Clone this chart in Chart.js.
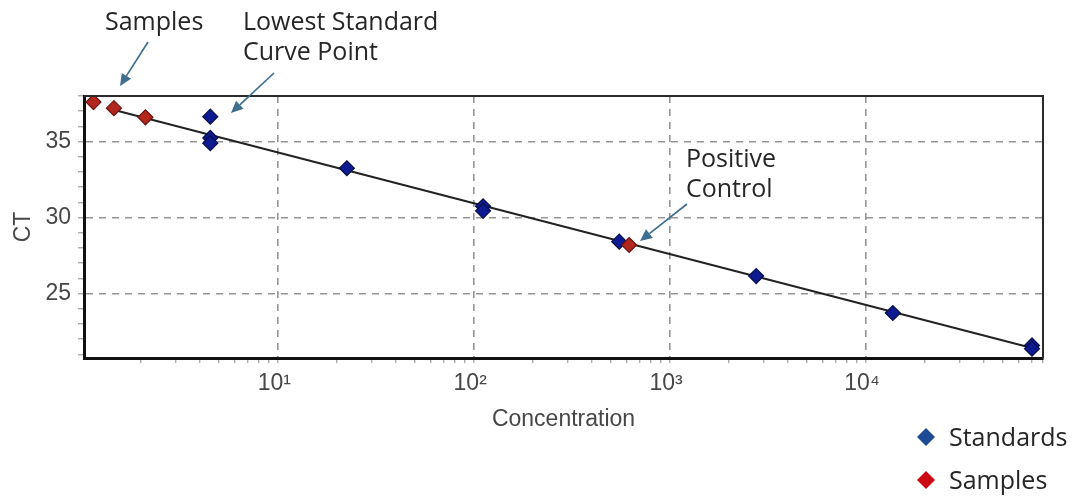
<!DOCTYPE html>
<html>
<head>
<meta charset="utf-8">
<style>
  html, body { margin: 0; padding: 0; background: #ffffff; }
  #wrap { width: 1078px; height: 498px; position: relative; }
</style>
<script src="https://cdn.jsdelivr.net/npm/chart.js@4.4.1/dist/chart.umd.min.js"></script>
</head>
<body>
<div id="wrap"><canvas id="c" width="1078" height="498"></canvas></div>
<script>
// ---- data ----
const standardConc = [4.5, 4.5, 4.5, 22.4, 111, 111, 550, 2750, 13700, 70300, 70300];
const standardCt   = [36.64, 35.24, 34.9, 33.25, 30.75, 30.45, 28.42, 26.16, 23.73, 21.6, 21.38];
const sampleConc   = [1.14, 1.45, 2.1, 618];
const sampleCt     = [37.6, 37.2, 36.6, 28.2];
const fitConc      = [1.44, 70300];
const fitCt        = [37.1, 21.43];
const xMajorTicks  = [10, 100, 1000, 10000];
const xTickLabels  = ['10\u00B9', '10\u00B2', '10\u00B3', '10\u2074'];
const yMajorTicks  = [25, 30, 35];
const yTickLabels  = ['25', '30', '35'];
const xRange = [1.02, 80000];
const yRange = [20.77, 38.0];
const legendLabels = ['Standards', 'Samples'];

const toXY = (xs, ys) => xs.map((x, i) => ({ x: x, y: ys[i] }));

const axisFont = { family: "'Liberation Sans', Arial, sans-serif", size: 23 };
const axisColor = '#474747';
const gridColor = '#959595';

function xMinorTicks() {
  const t = [];
  for (let d = 1; d <= 10000; d *= 10) {
    for (let m = 1; m <= 9; m++) {
      const v = m * d;
      if (v >= xRange[0] && v <= xRange[1]) t.push({ value: v });
    }
  }
  return t;
}

const framePlugin = {
  id: 'frame',
  afterDatasetsDraw(chart) {
    const { ctx, chartArea: a } = chart;
    ctx.save();
    ctx.strokeStyle = '#2b2b2b';
    ctx.lineWidth = 2;
    ctx.beginPath();
    ctx.moveTo(a.left, a.top);
    ctx.lineTo(a.right, a.top);
    ctx.lineTo(a.right, a.bottom);
    ctx.stroke();
    ctx.restore();
  }
};

const notesPlugin = {
  id: 'notes',
  afterDraw(chart) {
    const ctx = chart.ctx;
    const notes = [
      { lines: ['Samples'], x: 105, y: 30 },
      { lines: ['Lowest Standard', 'Curve Point'], x: 243, y: 30 },
      { lines: ['Positive', 'Control'], x: 686, y: 167 }
    ];
    const arrows = [[148, 42, 120, 86], [274, 73, 231, 113], [687, 204, 640, 241]];
    ctx.save();
    ctx.font = "25px 'Open Sans', 'Noto Sans', sans-serif";
    ctx.fillStyle = '#262626';
    ctx.textBaseline = 'alphabetic';
    ctx.textAlign = 'left';
    notes.forEach(n => n.lines.forEach((l, i) => ctx.fillText(l, n.x, n.y + i * 30)));
    ctx.strokeStyle = '#3f6f8f';
    ctx.fillStyle = '#3f6f8f';
    ctx.lineWidth = 1.7;
    arrows.forEach(([x1, y1, x2, y2]) => {
      const ang = Math.atan2(y2 - y1, x2 - x1);
      const hl = 12, hw = 5.5;
      const bx = x2 - hl * Math.cos(ang), by = y2 - hl * Math.sin(ang);
      ctx.beginPath();
      ctx.moveTo(x1, y1);
      ctx.lineTo(bx, by);
      ctx.stroke();
      ctx.beginPath();
      ctx.moveTo(x2, y2);
      ctx.lineTo(bx + hw * Math.sin(ang), by - hw * Math.cos(ang));
      ctx.lineTo(bx - hw * Math.sin(ang), by + hw * Math.cos(ang));
      ctx.closePath();
      ctx.fill();
    });
    // legend
    const items = [
      { text: legendLabels[0], color: '#1f4a96', cy: 437 },
      { text: legendLabels[1], color: '#cc0a14', cy: 480 }
    ];
    items.forEach(it => {
      ctx.fillStyle = it.color;
      ctx.beginPath();
      ctx.moveTo(926, it.cy - 9);
      ctx.lineTo(935, it.cy);
      ctx.lineTo(926, it.cy + 9);
      ctx.lineTo(917, it.cy);
      ctx.closePath();
      ctx.fill();
      ctx.fillStyle = '#262626';
      ctx.fillText(it.text, 949, it.cy + 9);
    });
    ctx.restore();
  }
};

new Chart(document.getElementById('c'), {
  type: 'scatter',
  data: {
    datasets: [
      {
        label: legendLabels[1],
        data: toXY(sampleConc, sampleCt),
        pointStyle: 'rectRot',
        pointRadius: 7.5,
        backgroundColor: '#b3261e',
        borderColor: '#6a1410',
        borderWidth: 1.2,
        order: 1
      },
      {
        label: legendLabels[0],
        data: toXY(standardConc, standardCt),
        pointStyle: 'rectRot',
        pointRadius: 7.5,
        backgroundColor: '#0e1a8f',
        borderColor: '#08104a',
        borderWidth: 1.2,
        order: 2
      },
      {
        label: 'fit',
        data: toXY(fitConc, fitCt),
        showLine: true,
        pointRadius: 0,
        borderColor: '#222222',
        borderWidth: 2,
        order: 3
      }
    ]
  },
  options: {
    responsive: false,
    animation: false,
    layout: { padding: { top: 96, right: 35, bottom: 65, left: 0 } },
    plugins: { legend: { display: false }, tooltip: { enabled: false } },
    scales: {
      x: {
        type: 'logarithmic',
        min: xRange[0],
        max: xRange[1],
        afterBuildTicks: s => { s.ticks = xMinorTicks(); },
        afterFit: s => { s.height = 75; },
        grid: {
          color: c => (c.tick && xMajorTicks.includes(c.tick.value)) ? gridColor : 'rgba(0,0,0,0)',
          lineWidth: 1.6,
          tickColor: '#8a8a8a',
          tickLength: 5,
          tickWidth: 1
        },
        border: { display: true, color: '#111111', width: 3, dash: [7, 6] },
        ticks: {
          autoSkip: false,
          maxRotation: 0,
          padding: 7,
          labelOffset: -4,
          color: axisColor,
          font: axisFont,
          callback: v => { const i = xMajorTicks.indexOf(v); return i >= 0 ? xTickLabels[i] : ''; }
        },
        title: { display: true, text: 'Concentration', color: axisColor, font: axisFont, padding: { top: 0, bottom: 0 } }
      },
      y: {
        type: 'linear',
        min: yRange[0],
        max: yRange[1],
        afterBuildTicks: s => {
          const t = [];
          for (let v = Math.ceil(yRange[0]); v <= Math.floor(yRange[1]); v++) t.push({ value: v });
          s.ticks = t;
        },
        afterFit: s => { s.width = 84; },
        grid: {
          color: c => (c.tick && yMajorTicks.includes(c.tick.value)) ? gridColor : 'rgba(0,0,0,0)',
          lineWidth: 1.6,
          tickColor: '#8a8a8a',
          tickLength: 6,
          tickWidth: 1
        },
        border: { display: true, color: '#111111', width: 3, dash: [7, 6] },
        ticks: {
          autoSkip: false,
          padding: 7,
          color: axisColor,
          font: axisFont,
          callback: v => { const i = yMajorTicks.indexOf(v); return i >= 0 ? yTickLabels[i] : ''; }
        },
        title: { display: true, text: 'CT', color: axisColor, font: axisFont, padding: { top: 10, bottom: 0 } }
      }
    }
  },
  plugins: [framePlugin, notesPlugin]
});
</script>
</body>
</html>
